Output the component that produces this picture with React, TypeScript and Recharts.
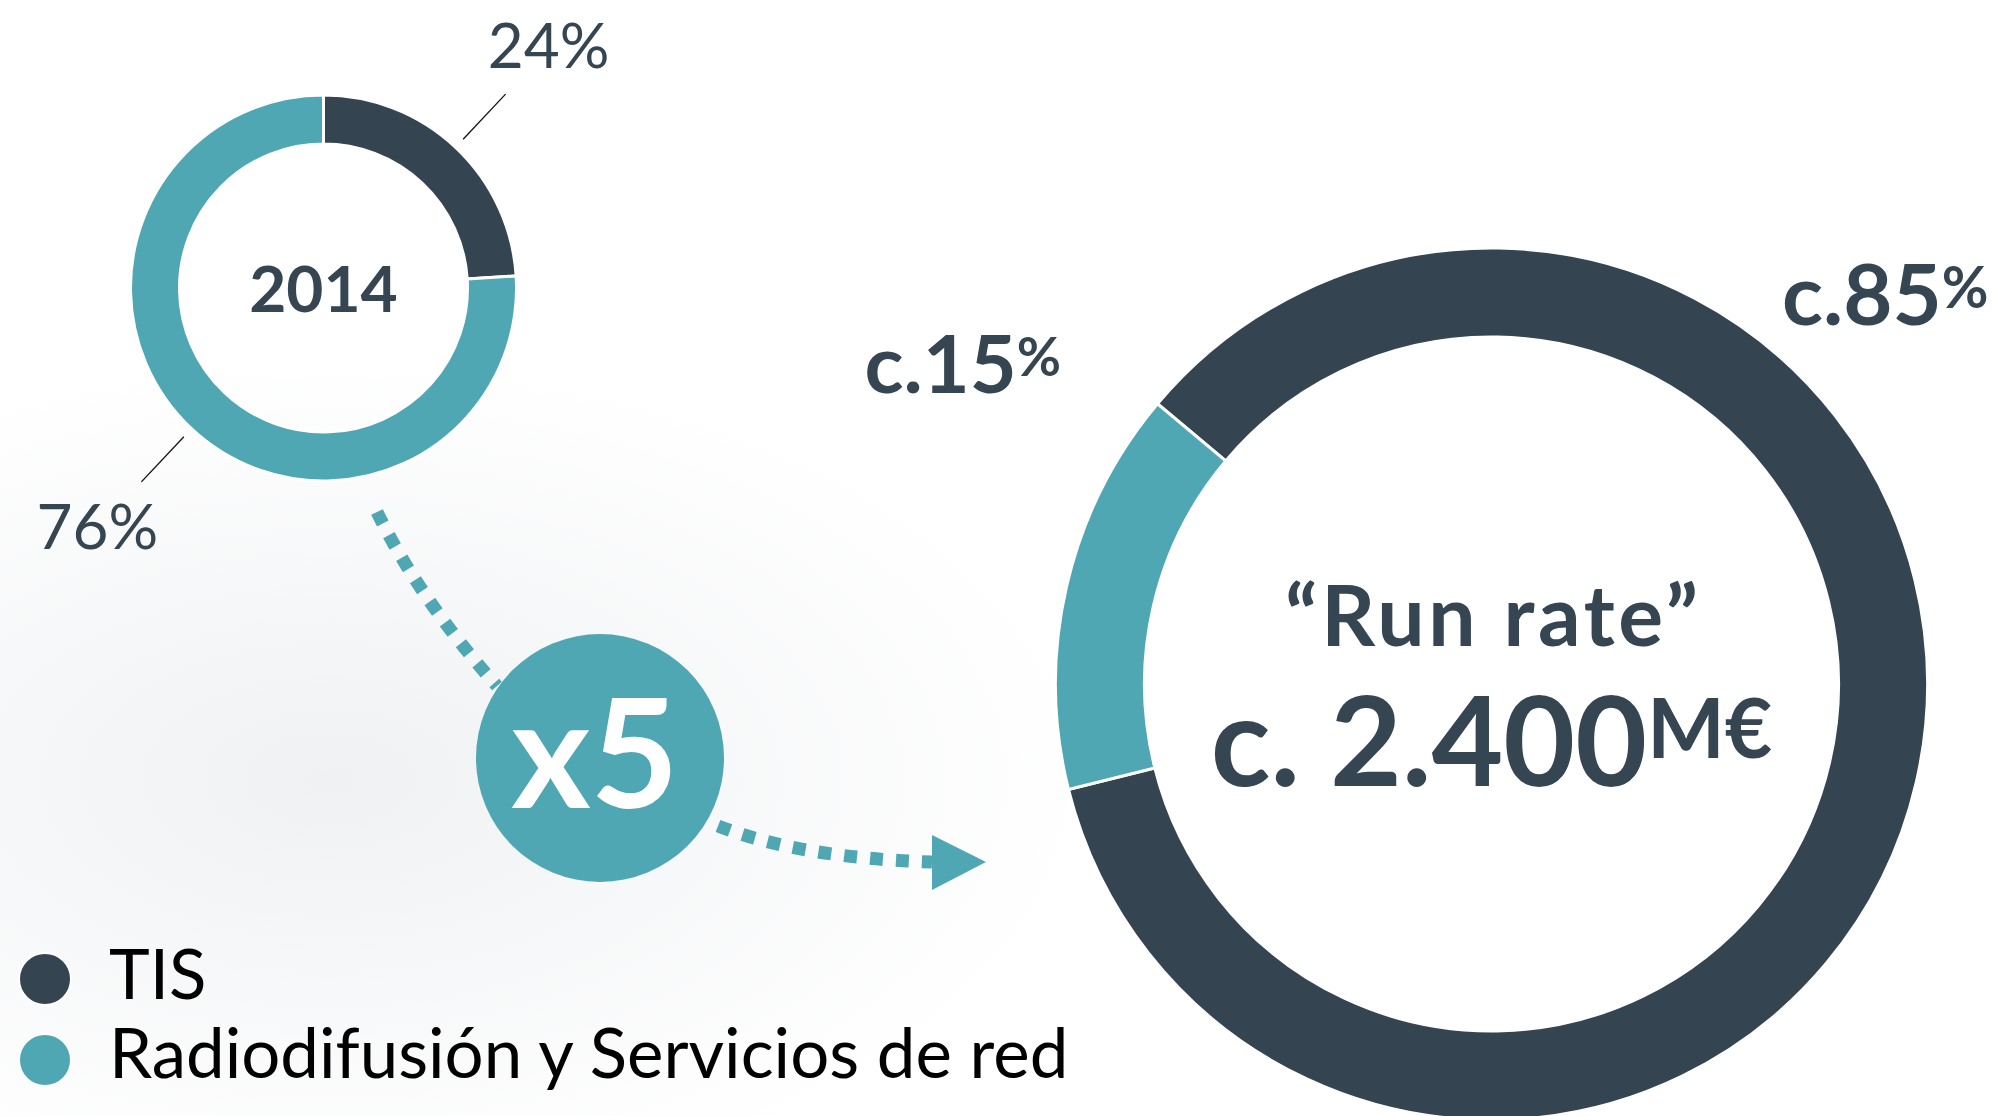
import React from 'react';
import { PieChart, Pie, Cell, Legend } from 'recharts';

// Business lines and their revenue share
const categories = ['TIS', 'Radiodifusión y Servicios de red'];
const share2014 = [24, 76];
const shareRunRate = [85, 15];

// Headline texts
const yearLabel = '2014';
const runRateTitle = '“Run rate”';
const runRateValue = 'c. 2.400';
const runRateUnit = 'M€';
const growthLabel = 'x5';

const COLORS = ['#344450', '#50a7b4'];
const TEXT = '#354552';
const FONT = "Lato, 'Open Sans', sans-serif";

const data2014 = categories.map((name, i) => ({ name, value: share2014[i] }));
const dataRunRate = categories.map((name, i) => ({ name, value: shareRunRate[i] }));

const RAD = Math.PI / 180;

// Percentage labels with a short radial leader line (2014 ring)
const ShareLabel = (props: any) => {
  const { cx, cy, midAngle, outerRadius, value } = props;
  const a = -midAngle * RAD;
  const r1 = outerRadius + 11;
  const r2 = outerRadius + 73;
  const x1 = cx + r1 * Math.cos(a);
  const y1 = cy + r1 * Math.sin(a);
  const x2 = cx + r2 * Math.cos(a);
  const y2 = cy + r2 * Math.sin(a);
  const right = Math.cos(a) >= 0;
  const tx = right ? x2 + 43 : x2 - 44;
  const ty = right ? y2 - 26 : y2 + 67;
  return (
    <g>
      <line x1={x1} y1={y1} x2={x2} y2={y2} stroke="#111" strokeWidth={1.3} />
      <text x={tx} y={ty} textAnchor="middle" fill={TEXT} fontFamily={FONT} fontSize={62}>
        {`${value}%`}
      </text>
    </g>
  );
};

// Placement of the run-rate share labels around the large ring
const runRateLabelPos = [
  { dx: 497, dy: -359, anchor: 'end', size: 85, pct: 57 },
  { dx: -627, dy: -291, anchor: 'start', size: 81, pct: 54 },
];

const RunRateLabel = (props: any) => {
  const { cx, cy, index, value } = props;
  const p = runRateLabelPos[index];
  return (
    <text
      x={cx + p.dx}
      y={cy + p.dy}
      textAnchor={p.anchor}
      fill={TEXT}
      fontFamily={FONT}
      fontWeight={700}
      fontSize={p.size}
    >
      {`c.${value}`}
      <tspan fontSize={p.pct} dy={-17}>%</tspan>
    </text>
  );
};

const LegendContent = () => (
  <svg width={1100} height={186}>
    {categories.map((name, i) => (
      <g key={name}>
        <circle cx={45} cy={49 + i * 81} r={26} fill={COLORS[i]} stroke="#fff" strokeWidth={2} />
        <text x={109} y={69 + i * 79} fill="#000" fontFamily={FONT} fontSize={69}>
          {name}
        </text>
      </g>
    ))}
  </svg>
);

export default function App() {
  const smallC = { x: 323.5, y: 288 };
  const bigC = { x: 1491.5, y: 684 };
  const bubble = { x: 600, y: 758, r: 124 };
  return (
    <div
      style={{
        position: 'absolute',
        left: 0,
        top: 0,
        width: 1999,
        height: 1116,
        overflow: 'hidden',
        background:
          'radial-gradient(ellipse 760px 420px at 330px 780px, #eff1f3 0%, rgba(255,255,255,0) 100%), #ffffff',
      }}
    >
      <PieChart width={1999} height={1116} margin={{ top: 0, right: 0, bottom: 0, left: 0 }}>
        {/* growth arrows */}
        <path
          d="M377,512 Q420,600 497,686"
          fill="none"
          stroke={COLORS[1]}
          strokeWidth={13}
          strokeDasharray="13 13"
        />
        <path
          d="M718,826 Q800,858 932,862"
          fill="none"
          stroke={COLORS[1]}
          strokeWidth={13}
          strokeDasharray="13 13"
        />
        <polygon points="932,835 986,862 932,890" fill={COLORS[1]} />
        <circle cx={bubble.x} cy={bubble.y} r={bubble.r} fill={COLORS[1]} />
        <text
          x={bubble.x - 5}
          y={808}
          textAnchor="middle"
          fill="#fff"
          fontFamily={FONT}
          fontWeight={700}
          fontSize={152}
        >
          {growthLabel}
        </text>

        <Pie
          data={data2014}
          dataKey="value"
          nameKey="name"
          cx={smallC.x}
          cy={smallC.y}
          innerRadius={144}
          outerRadius={193}
          startAngle={90}
          endAngle={-270}
          stroke="#ffffff"
          strokeWidth={3}
          label={ShareLabel}
          labelLine={false}
          isAnimationActive={false}
        >
          {data2014.map((d, i) => (
            <Cell key={d.name} fill={COLORS[i]} />
          ))}
        </Pie>

        <Pie
          data={dataRunRate}
          dataKey="value"
          nameKey="name"
          cx={bigC.x}
          cy={bigC.y}
          innerRadius={347}
          outerRadius={436}
          startAngle={194}
          endAngle={554}
          stroke="#ffffff"
          strokeWidth={3}
          label={RunRateLabel}
          labelLine={false}
          isAnimationActive={false}
        >
          {dataRunRate.map((d, i) => (
            <Cell key={d.name} fill={COLORS[i]} />
          ))}
        </Pie>

        <text
          x={smallC.x}
          y={312}
          textAnchor="middle"
          fill={TEXT}
          fontFamily={FONT}
          fontWeight={700}
          fontSize={64}
        >
          {yearLabel}
        </text>

        {/* two-line headline in the centre of the large ring */}
        <text
          x={bigC.x}
          y={646}
          textAnchor="middle"
          fill={TEXT}
          fontFamily={FONT}
          fontWeight={700}
          fontSize={84}
          textLength={413}
          lengthAdjust="spacing"
        >
          {runRateTitle}
        </text>
        <text
          x={bigC.x}
          y={786}
          textAnchor="middle"
          fill={TEXT}
          fontFamily={FONT}
          fontWeight={700}
          fontSize={124}
        >
          {runRateValue}
          <tspan fontSize={82} dy={-28}>{runRateUnit}</tspan>
        </text>

        <Legend
          content={LegendContent}
          wrapperStyle={{ position: 'absolute', left: 0, top: 930, width: 1100, height: 186 }}
        />
      </PieChart>
    </div>
  );
}
